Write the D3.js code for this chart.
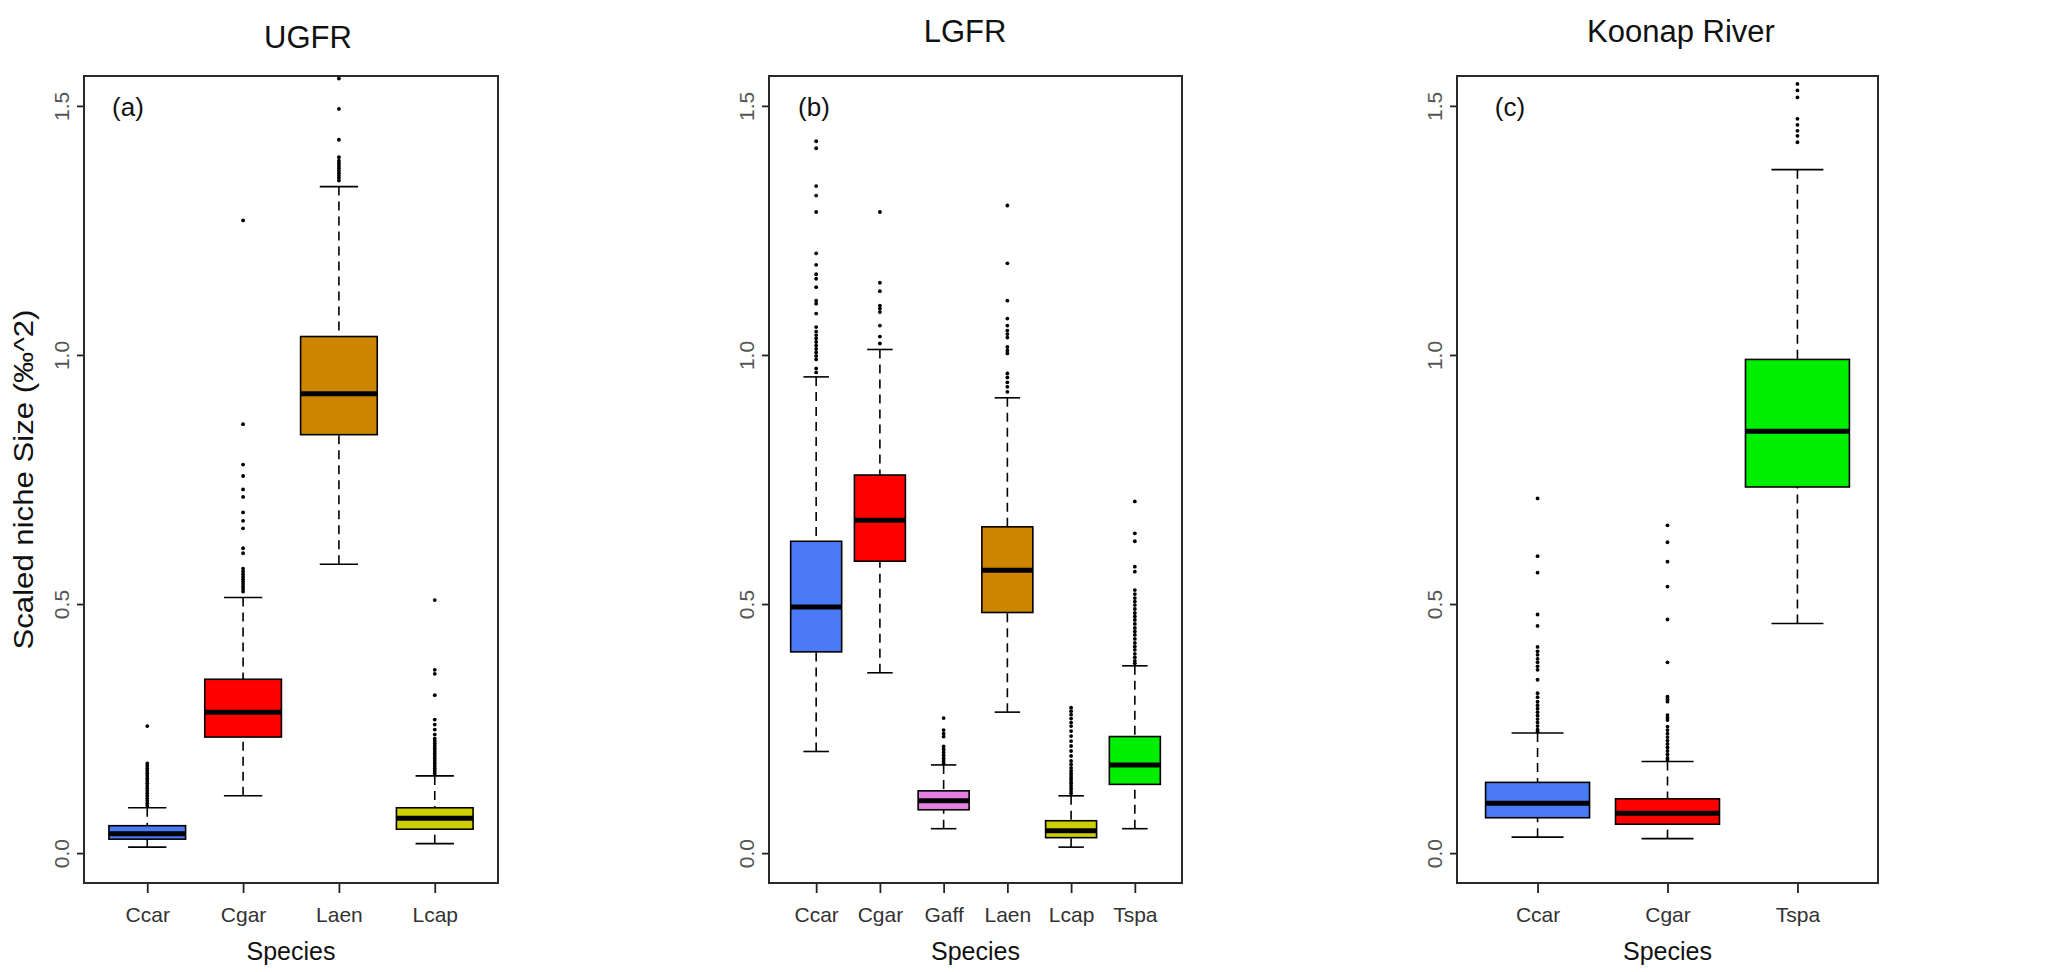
<!DOCTYPE html>
<html>
<head>
<meta charset="utf-8">
<script src="https://cdn.jsdelivr.net/npm/d3@7"></script>
<style>
  body { margin: 0; background: #fff; }
  svg { display: block; font-family: "Liberation Sans", Arial, sans-serif; }
</style>
</head>
<body>
<svg id="chart" width="2048" height="972"></svg>
<script>
// species on each river
const ugfrSpecies = ['Ccar', 'Cgar', 'Laen', 'Lcap'];
const lgfrSpecies = ['Ccar', 'Cgar', 'Gaff', 'Laen', 'Lcap', 'Tspa'];
const koonapSpecies = ['Ccar', 'Cgar', 'Tspa'];

// [lower whisker, Q1, median, Q3, upper whisker]
const ugfrStats = [
  [0.012, 0.028, 0.039, 0.055, 0.091],
  [0.115, 0.233, 0.283, 0.349, 0.513],
  [0.580, 0.840, 0.922, 1.037, 1.338],
  [0.019, 0.048, 0.070, 0.091, 0.155]
];
const lgfrStats = [
  [0.204, 0.404, 0.494, 0.626, 0.956],
  [0.362, 0.586, 0.668, 0.759, 1.011],
  [0.049, 0.087, 0.105, 0.125, 0.177],
  [0.283, 0.483, 0.568, 0.655, 0.914],
  [0.012, 0.031, 0.045, 0.065, 0.115],
  [0.049, 0.138, 0.177, 0.234, 0.376]
];
const koonapStats = [
  [0.032, 0.071, 0.100, 0.142, 0.241],
  [0.029, 0.058, 0.080, 0.109, 0.184],
  [0.461, 0.735, 0.847, 0.991, 1.372]
];

// outlying points
const ugfrOutliers = [
  [0.095, 0.1, 0.105, 0.11, 0.115, 0.12, 0.125, 0.13, 0.135, 0.14, 0.145, 0.15, 0.155, 0.16, 0.165, 0.17, 0.175, 0.18, 0.255],
  [0.525, 0.53, 0.535, 0.54, 0.545, 0.55, 0.555, 0.56, 0.565, 0.571, 0.602, 0.612, 0.652, 0.667, 0.684, 0.715, 0.73, 0.757, 0.78, 0.861, 1.27],
  [1.35, 1.355, 1.36, 1.365, 1.37, 1.375, 1.38, 1.385, 1.39, 1.397, 1.432, 1.494, 1.555],
  [0.16, 0.165, 0.17, 0.175, 0.18, 0.185, 0.19, 0.195, 0.2, 0.205, 0.21, 0.215, 0.22, 0.225, 0.23, 0.238, 0.248, 0.258, 0.268, 0.317, 0.36, 0.368, 0.508]
];
const lgfrOutliers = [
  [0.965, 0.973, 0.991, 0.998, 1.005, 1.012, 1.019, 1.026, 1.033, 1.04, 1.047, 1.056, 1.083, 1.103, 1.109, 1.136, 1.153, 1.162, 1.181, 1.204, 1.287, 1.32, 1.339, 1.415, 1.429],
  [1.023, 1.037, 1.059, 1.086, 1.093, 1.099, 1.128, 1.145, 1.287],
  [0.18, 0.185, 0.19, 0.196, 0.202, 0.208, 0.214, 0.234, 0.24, 0.247, 0.271],
  [0.926, 0.936, 0.945, 0.955, 0.963, 1.003, 1.009, 1.016, 1.035, 1.042, 1.049, 1.059, 1.073, 1.109, 1.184, 1.3],
  [0.12, 0.125, 0.13, 0.135, 0.14, 0.145, 0.15, 0.155, 0.16, 0.165, 0.171, 0.178, 0.185, 0.195, 0.205, 0.215, 0.225, 0.235, 0.245, 0.255, 0.262, 0.27, 0.278, 0.285, 0.292],
  [0.381, 0.386, 0.393, 0.4, 0.408, 0.415, 0.422, 0.43, 0.438, 0.445, 0.452, 0.46, 0.468, 0.475, 0.482, 0.49, 0.498, 0.505, 0.512, 0.52, 0.528, 0.565, 0.575, 0.626, 0.642, 0.706]
];
const koonapOutliers = [
  [0.244, 0.248, 0.255, 0.262, 0.269, 0.276, 0.283, 0.29, 0.297, 0.304, 0.313, 0.321, 0.348, 0.368, 0.375, 0.383, 0.39, 0.398, 0.405, 0.414, 0.456, 0.479, 0.563, 0.596, 0.712],
  [0.187, 0.191, 0.198, 0.205, 0.212, 0.219, 0.226, 0.233, 0.24, 0.247, 0.254, 0.267, 0.272, 0.277, 0.304, 0.309, 0.314, 0.383, 0.469, 0.535, 0.585, 0.624, 0.658],
  [1.427, 1.44, 1.45, 1.462, 1.474, 1.517, 1.531, 1.544]
];

const yTicks = [0, 0.5, 1.0, 1.5];

const speciesColors = {
  Ccar: '#4a7af5',
  Cgar: '#ff0000',
  Gaff: '#e27fe0',
  Laen: '#cd8500',
  Lcap: '#cdcd00',
  Tspa: '#00ee00'
};

const svg = d3.select('#chart');

const boxPlot = (selection, props) => {
  const {
    title, tag, species, stats, outliers,
    left, right, top, bottom,
    titleX, titleY, tagX, yLabel
  } = props;

  const n = species.length;
  const yScale = d3.scaleLinear().domain([-0.06, 1.56]).range([bottom, top]);
  // R style: xlim 0.5..n+0.5 padded by 4% on each side
  const xScale = d3.scalePoint().domain(species).range([left, right]).padding(0.5 + 0.04 * n);
  const step = xScale.step();
  const boxW = step * 0.8;
  const capW = step * 0.4;

  const g = selection.append('g').attr('class', 'panel');

  const data = species.map((s, i) => ({ key: s, st: stats[i], out: outliers[i] }));

  const items = g.selectAll('.item').data(data).enter().append('g')
    .attr('class', 'item')
    .attr('transform', d => `translate(${xScale(d.key)},0)`);

  // whiskers
  items.append('line')
    .attr('x1', 0).attr('x2', 0)
    .attr('y1', d => yScale(d.st[0])).attr('y2', d => yScale(d.st[1]))
    .attr('stroke', '#000').attr('stroke-width', 1.6).attr('stroke-dasharray', '9,6');
  items.append('line')
    .attr('x1', 0).attr('x2', 0)
    .attr('y1', d => yScale(d.st[4])).attr('y2', d => yScale(d.st[3]))
    .attr('stroke', '#000').attr('stroke-width', 1.6).attr('stroke-dasharray', '9,6');

  // staples
  items.selectAll('.staple').data(d => [d.st[0], d.st[4]]).enter().append('line')
    .attr('class', 'staple')
    .attr('x1', -capW / 2).attr('x2', capW / 2)
    .attr('y1', v => yScale(v)).attr('y2', v => yScale(v))
    .attr('stroke', '#000').attr('stroke-width', 1.6);

  // boxes
  items.append('rect')
    .attr('x', -boxW / 2)
    .attr('width', boxW)
    .attr('y', d => yScale(d.st[3]))
    .attr('height', d => yScale(d.st[1]) - yScale(d.st[3]))
    .attr('fill', d => speciesColors[d.key])
    .attr('stroke', '#000').attr('stroke-width', 1.6);

  // medians
  items.append('line')
    .attr('x1', -boxW / 2).attr('x2', boxW / 2)
    .attr('y1', d => yScale(d.st[2])).attr('y2', d => yScale(d.st[2]))
    .attr('stroke', '#000').attr('stroke-width', 5);

  // outliers
  items.selectAll('.pt').data(d => d.out).enter().append('circle')
    .attr('class', 'pt')
    .attr('cx', 0)
    .attr('cy', v => yScale(v))
    .attr('r', 1.9)
    .attr('fill', '#000');

  // axes
  const xAxis = d3.axisBottom(xScale).tickSize(10);
  const xAxisG = g.append('g')
    .attr('transform', `translate(0,${bottom})`)
    .call(xAxis);
  xAxisG.select('.domain').remove();
  xAxisG.selectAll('.tick line').attr('stroke', '#222').attr('stroke-width', 1.8);
  xAxisG.selectAll('.tick text')
    .attr('y', 39).attr('dy', 0)
    .attr('fill', '#333')
    .style('font-size', '21px');

  const yAxis = d3.axisLeft(yScale).tickValues(yTicks).tickFormat(d3.format('.1f')).tickSize(7);
  const yAxisG = g.append('g')
    .attr('transform', `translate(${left},0)`)
    .call(yAxis);
  yAxisG.select('.domain').remove();
  yAxisG.selectAll('.tick line').attr('stroke', '#222').attr('stroke-width', 1.8);
  yAxisG.selectAll('.tick text')
    .attr('x', 0).attr('y', -15).attr('dy', 0)
    .attr('transform', 'rotate(-90)')
    .attr('text-anchor', 'middle')
    .attr('fill', '#555')
    .style('font-size', '21px');

  // frame
  g.append('rect')
    .attr('x', left).attr('y', top)
    .attr('width', right - left).attr('height', bottom - top)
    .attr('fill', 'none').attr('stroke', '#2a2a2a').attr('stroke-width', 2);

  // title, tag and axis labels
  g.append('text')
    .attr('x', titleX).attr('y', titleY)
    .attr('text-anchor', 'middle')
    .attr('fill', '#111')
    .style('font-size', '31px')
    .text(title);

  g.append('text')
    .attr('x', tagX).attr('y', 116)
    .attr('text-anchor', 'middle')
    .attr('fill', '#111')
    .style('font-size', '26px')
    .text(tag);

  g.append('text')
    .attr('x', (left + right) / 2).attr('y', 960)
    .attr('text-anchor', 'middle')
    .attr('fill', '#111')
    .style('font-size', '25px')
    .text('Species');

  if (yLabel) {
    g.append('text')
      .attr('transform', `translate(33,${(top + bottom) / 2}) rotate(-90)`)
      .attr('text-anchor', 'middle')
      .attr('textLength', 340)
      .attr('lengthAdjust', 'spacingAndGlyphs')
      .attr('fill', '#111')
      .style('font-size', '27px')
      .text(yLabel);
  }
};

svg.call(boxPlot, {
  title: 'UGFR', tag: '(a)',
  species: ugfrSpecies, stats: ugfrStats, outliers: ugfrOutliers,
  left: 84, right: 498, top: 76, bottom: 883,
  titleX: 308, titleY: 48, tagX: 128,
  yLabel: 'Scaled niche Size (‰^2)'
});

svg.call(boxPlot, {
  title: 'LGFR', tag: '(b)',
  species: lgfrSpecies, stats: lgfrStats, outliers: lgfrOutliers,
  left: 769, right: 1182, top: 76, bottom: 883,
  titleX: 965, titleY: 42, tagX: 814
});

svg.call(boxPlot, {
  title: 'Koonap River', tag: '(c)',
  species: koonapSpecies, stats: koonapStats, outliers: koonapOutliers,
  left: 1457, right: 1878, top: 76, bottom: 883,
  titleX: 1681, titleY: 42, tagX: 1510
});
</script>
</body>
</html>
